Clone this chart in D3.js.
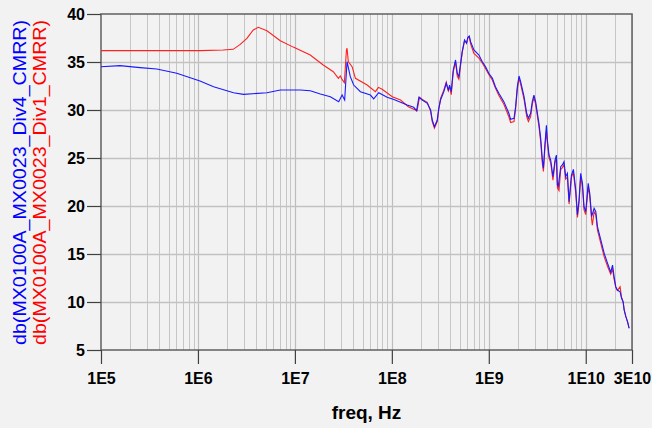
<!DOCTYPE html>
<html><head><meta charset="utf-8">
<script src="https://cdn.jsdelivr.net/npm/d3@7"></script>
<style>body{margin:0;background:#f2f2f2;} svg{display:block;}</style>
</head><body><svg id="c" width="652" height="428"></svg>
<script>
const xTickValues = [1e5, 1e6, 1e7, 1e8, 1e9, 1e10, 3e10];
const xTickLabels = ["1E5", "1E6", "1E7", "1E8", "1E9", "1E10", "3E10"];
const yTickValues = [5, 10, 15, 20, 25, 30, 35, 40];
const seriesNames = ["db(MX0100A_MX0023_Div4_CMRR)", "db(MX0100A_MX0023_Div1_CMRR)"];
const xTitle = "freq, Hz";

const freqBlue = [1e5,1.57e5,2.53e5,3.76e5,6.05e5,1.05e6,1.45e6,2.33e6,2.95e6,5.15e6,7.07e6,1.14e7,1.44e7,1.83e7,2.32e7,2.83e7,3.07e7,3.26e7,3.45e7,3.73e7,4.04e7,4.74e7,6.01e7,6.5e7,7.32e7,8.94e7,1.05e8,1.23e8,1.44e8,1.68e8,1.8e8,1.9e8,
2.06e8,2.32e8,2.51e8,2.61e8,2.75e8,2.94e8,3.05e8,3.18e8,3.44e8,3.64e8,3.82e8,3.94e8,4.1e8,4.3e8,4.54e8,4.73e8,4.91e8,5.12e8,5.32e8,5.62e8,5.9e8,6.08e8,6.29e8,6.49e8,7.02e8,7.91e8,8.57e8,9.27e8,
1.0e9,1.09e9,1.17e9,1.27e9,1.43e9,1.61e9,1.68e9,1.82e9,1.89e9,1.97e9,2.05e9,2.13e9,2.31e9,2.46e9,2.56e9,2.7e9,2.81e9,2.92e9,3.04e9,3.29e9,3.43e9,3.57e9,3.66e9,3.8e9,3.93e9,4.02e9,4.18e9,4.35e9,4.59e9,4.82e9,4.98e9,5.1e9,5.2e9,5.52e9,5.74e9,5.97e9,6.21e9,6.47e9,6.73e9,7.12e9,7.46e9,7.89e9,8.21e9,8.53e9,8.87e9,9.25e9,9.6e9,
1.0e10,1.06e10,1.1e10,1.15e10,1.22e10,1.27e10,1.32e10,1.43e10,1.55e10,1.68e10,1.81e10,1.89e10,1.96e10,2.04e10,2.12e10,2.26e10,2.34e10,2.43e10,2.49e10,2.59e10,2.7e10,2.8e10];
const dbBlue = [34.51,34.62,34.41,34.27,33.82,33.02,32.43,31.8,31.63,31.8,32.08,32.08,32.01,31.67,31.39,30.86,31.56,31.04,35.03,33.47,32.6,31.91,31.56,31.15,31.8,31.32,31.1,30.8,30.52,30.28,29.93,31.32,
31.04,30.7,30.0,28.96,28.26,28.96,30.18,31.04,31.91,32.78,32.08,32.6,31.91,34.17,35.21,33.82,33.47,34.86,36.08,37.29,36.95,37.57,37.71,37.12,36.25,35.73,35.03,34.51,
33.82,33.3,32.43,31.74,30.87,29.66,29.03,29.14,30.34,32.43,33.54,32.95,31.39,29.66,29.14,29.66,30.87,31.56,30.87,28.61,27.05,24.79,23.93,26.53,28.4,26.88,25.31,24.79,23.05,24.79,25.31,22.19,22.01,24.1,24.27,24.62,23.05,23.4,20.45,23.23,23.82,21.67,19.06,20.63,23.4,22.36,19.93,
19.41,22.36,21.32,18.89,19.76,19.41,17.85,16.46,15.07,14.03,13.1,13.85,12.64,11.6,11.25,11.07,10.38,10.03,9.17,8.47,7.95,7.26];

const freqRed = [1e5,1.05e6,1.82e6,2.31e6,2.73e6,3.2e6,3.72e6,4.19e6,5.15e6,7.07e6,9.62e6,1.44e7,1.96e7,2.49e7,2.81e7,2.94e7,3.09e7,3.24e7,3.4e7,3.45e7,3.56e7,3.89e7,4.21e7,5.56e7,6.77e7,7.27e7,7.94e7,1.01e8,1.23e8,1.48e8,1.82e8,1.93e8,
2.06e8,2.32e8,2.51e8,2.61e8,2.75e8,2.94e8,3.05e8,3.18e8,3.44e8,3.64e8,3.82e8,3.94e8,4.1e8,4.3e8,4.54e8,4.73e8,4.91e8,5.12e8,5.32e8,5.62e8,5.9e8,6.08e8,6.29e8,6.49e8,7.02e8,7.91e8,8.57e8,9.27e8,
1.0e9,1.09e9,1.17e9,1.27e9,1.43e9,1.61e9,1.68e9,1.82e9,1.89e9,1.97e9,2.05e9,2.13e9,2.31e9,2.46e9,2.56e9,2.7e9,2.81e9,2.92e9,3.04e9,3.29e9,3.43e9,3.57e9,3.66e9,3.8e9,3.93e9,4.02e9,4.18e9,4.35e9,4.59e9,4.82e9,4.98e9,5.1e9,5.3e9,5.52e9,5.74e9,5.97e9,6.21e9,6.47e9,6.73e9,7.12e9,7.46e9,7.89e9,8.21e9,8.53e9,8.87e9,9.25e9,9.6e9,
1.0e10,1.06e10,1.1e10,1.15e10,1.17e10,1.22e10,1.27e10,1.32e10,1.43e10,1.55e10,1.68e10,1.81e10,1.89e10,1.96e10,2.04e10,2.12e10,2.26e10,2.34e10,2.43e10,2.49e10,2.59e10,2.7e10,2.8e10];
const dbRed = [36.18,36.18,36.25,36.32,36.84,37.47,38.33,38.61,38.26,37.22,36.55,35.73,34.69,33.99,33.3,33.54,33.13,32.85,36.25,36.43,35.03,34.51,33.3,32.6,31.91,32.36,32.16,31.39,31.04,30.34,29.93,31.32,
31.1,30.8,29.9,28.8,28.1,28.8,30.1,31.2,32.1,32.9,32.0,32.4,31.6,34.0,35.0,33.5,33.2,34.7,36.0,37.2,37.0,37.5,37.6,36.9,35.9,35.4,34.9,34.3,
33.7,33.1,32.3,31.5,30.6,29.3,28.7,28.8,30.1,32.2,33.3,32.7,31.1,29.3,28.8,29.3,30.6,31.3,30.6,28.3,26.7,24.4,23.6,26.2,27.8,26.6,25.0,24.5,22.7,24.5,25.1,21.9,21.6,23.8,24.0,24.3,22.8,23.0,20.2,23.0,23.5,21.3,18.8,20.4,23.1,22.0,19.6,
19.1,22.0,21.0,18.6,18.0,19.4,19.1,17.5,16.1,14.7,13.7,12.9,13.4,12.4,11.5,11.2,11.6,10.5,10.0,9.2,8.5,7.9,7.3];

const svg = d3.select("#c");
const L = 101, R = 632, T = 14, B = 350;
const x = d3.scaleLog().domain([1e5, 3e10]).range([L, R]);
const y = d3.scaleLinear().domain([5, 40]).range([B, T]);

svg.append("rect").attr("width", 652).attr("height", 428).attr("fill", "#f2f2f2");

// minor grid positions
const minor = [];
for (let d = 1e5; d <= 1e10; d *= 10) {
  for (let m = 2; m <= 9; m++) { if (m * d <= 3e10) minor.push(m * d); }
}
const g = svg.append("g");
g.selectAll(".mn").data(minor).join("line")
  .attr("x1", d => Math.round(x(d)) + 0.5).attr("x2", d => Math.round(x(d)) + 0.5)
  .attr("y1", T).attr("y2", B).attr("stroke", "#c6c6c6").attr("stroke-width", 1);
g.selectAll(".mj").data(xTickValues.slice(1, -1)).join("line")
  .attr("x1", d => Math.round(x(d)) + 0.5).attr("x2", d => Math.round(x(d)) + 0.5)
  .attr("y1", T).attr("y2", B).attr("stroke", "#bdbdbd").attr("stroke-width", 1.2);
g.selectAll(".hy").data(yTickValues.slice(1, -1)).join("line")
  .attr("x1", L).attr("x2", R)
  .attr("y1", d => Math.round(y(d)) + 0.5).attr("y2", d => Math.round(y(d)) + 0.5)
  .attr("stroke", "#c2c2c2").attr("stroke-width", 1.5);

// frame
svg.append("rect").attr("x", L).attr("y", T).attr("width", R - L).attr("height", B - T)
  .attr("fill", "none").attr("stroke", "#606060").attr("stroke-width", 1.5);

// axes
const fontFam = "'Liberation Sans', Arial, Helvetica, sans-serif";
const xAxis = d3.axisBottom(x).tickValues(xTickValues)
  .tickFormat((d, i) => xTickLabels[i]).tickSize(14).tickPadding(9);
const xa = svg.append("g").attr("transform", `translate(0,${B})`).call(xAxis);
const yAxis = d3.axisLeft(y).tickValues(yTickValues).tickFormat(d3.format("d")).tickSize(14).tickPadding(2);
const ya = svg.append("g").attr("transform", `translate(${L},0)`).call(yAxis);
[xa, ya].forEach(a => {
  a.select(".domain").remove();
  a.selectAll(".tick line").attr("stroke", "#404040").attr("stroke-width", 1.2);
  a.selectAll(".tick text").attr("fill", "#000").attr("font-family", fontFam)
    .attr("font-weight", "bold").attr("font-size", 16);
});

// lines
const line = d3.line().x(d => x(d[0])).y(d => y(d[1]));
svg.append("path").datum(freqRed.map((f, i) => [f, dbRed[i]]))
  .attr("d", line).attr("fill", "none").attr("stroke", "#ff2020").attr("stroke-width", 1.1);
svg.append("path").datum(freqBlue.map((f, i) => [f, dbBlue[i]]))
  .attr("d", line).attr("fill", "none").attr("stroke", "#1a1aff").attr("stroke-width", 1.1);

// titles
svg.append("text").attr("x", (L + R) / 2).attr("y", 419).attr("text-anchor", "middle")
  .attr("font-family", fontFam).attr("font-weight", "bold").attr("font-size", 19).text(xTitle);
const yc = 182.5;
svg.append("text").attr("transform", `translate(26,${yc}) rotate(-90)`).attr("text-anchor", "middle")
  .attr("font-family", fontFam).attr("font-size", 18).attr("fill", "#0000ff")
  .attr("textLength", 325).attr("lengthAdjust", "spacingAndGlyphs").text(seriesNames[0]);
svg.append("text").attr("transform", `translate(45.5,${yc}) rotate(-90)`).attr("text-anchor", "middle")
  .attr("font-family", fontFam).attr("font-size", 18).attr("fill", "#ff0000")
  .attr("textLength", 325).attr("lengthAdjust", "spacingAndGlyphs").text(seriesNames[1]);
</script></body></html>
